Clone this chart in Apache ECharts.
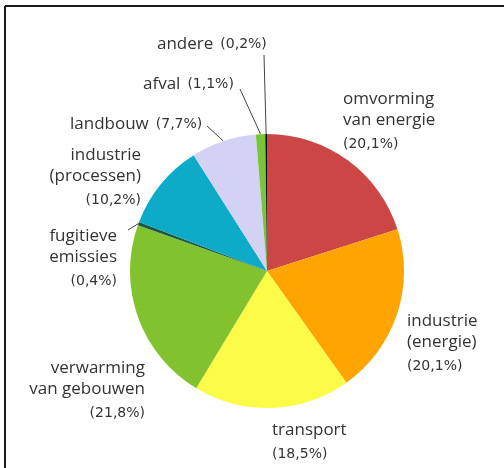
<!DOCTYPE html>
<html>
<head>
<meta charset="utf-8">
<script src="https://cdn.jsdelivr.net/npm/echarts@6/dist/echarts.min.js"></script>
<style>
  html, body { margin: 0; padding: 0; background: #fff; }
  #chart { width: 504px; height: 468px; }
</style>
</head>
<body>
<div id="chart"></div>
<script>
// Emission shares per sector (%), clockwise from 12 o'clock
const categories = [
  'omvorming van energie', 'industrie (energie)', 'transport',
  'verwarming van gebouwen', 'fugitieve emissies', 'industrie (processen)',
  'landbouw', 'afval', 'andere'
];
const shares = [20.1, 20.1, 18.5, 21.8, 0.4, 10.2, 7.7, 1.1, 0.2];
// How each sector name is broken over lines in its label
const nameLines = [
  ['omvorming', 'van energie'], ['industrie', '(energie)'], ['transport'],
  ['verwarming', 'van gebouwen'], ['fugitieve', 'emissies'], ['industrie', '(processen)'],
  ['landbouw'], ['afval'], ['andere']
];
// Names whose percentage sits on the same line
const inlinePercent = ['landbouw', 'afval', 'andere'];

const sliceColors = ['#cd4646', '#ffa400', '#fbfb48', '#82c22f', '#1c5a44',
                     '#0eabc9', '#d3d1f4', '#79c53a', '#111111'];

// Label anchors (top of the text block) and leader-line ends
const labelPlacement = [
  { x: 343, y: 89,  align: 'left' },
  { x: 407, y: 311, align: 'left' },
  { x: 272, y: 420, align: 'left' },
  { x: 145, y: 358, align: 'right' },
  { x: 117, y: 226, align: 'right', lineEnd: [128, 230] },
  { x: 141, y: 145, align: 'right' },
  { x: 70,  y: 112, align: 'left',  lineEnd: [207, 126] },
  { x: 143, y: 72,  align: 'left',  lineEnd: [240, 89] },
  { x: 157, y: 32,  align: 'left',  lineEnd: [264, 55] }
];

const CX = 267, CY = 271, R = 137;

function pct(v) { return '(' + v.toFixed(1).replace('.', ',') + '%)'; }

const total = shares.reduce((a, b) => a + b, 0);
function edgePoint(i) {
  let before = 0;
  for (let k = 0; k < i; k++) before += shares[k];
  const a = (before + shares[i] / 2) / total * 2 * Math.PI;
  return [CX + R * Math.sin(a), CY - R * Math.cos(a)];
}

const data = categories.map((name, i) => ({
  name: name,
  value: shares[i],
  itemStyle: { color: sliceColors[i] },
  labelLine: { show: !!labelPlacement[i].lineEnd }
}));

const chart = echarts.init(document.getElementById('chart'), null, { renderer: 'canvas' });
chart.setOption({
  backgroundColor: '#ffffff',
  animation: false,
  graphic: [
    { type: 'line', shape: { x1: 5, y1: 6, x2: 504, y2: 6 }, style: { stroke: '#1a1a1a', lineWidth: 2 } },
    { type: 'line', shape: { x1: 5, y1: 6, x2: 5, y2: 468 }, style: { stroke: '#1a1a1a', lineWidth: 2 } }
  ],
  series: [{
    type: 'pie',
    center: [CX, CY],
    radius: R,
    startAngle: 90,
    clockwise: true,
    avoidLabelOverlap: false,
    silent: true,
    itemStyle: { borderWidth: 0 },
    label: {
      show: true,
      position: 'outside',
      fontFamily: 'Open Sans',
      color: '#333',
      formatter: function (p) {
        const lines = nameLines[p.dataIndex];
        if (inlinePercent.indexOf(lines[0]) >= 0) {
          return '{n|' + lines[0] + '}{q|' + pct(p.value) + '}';
        }
        return lines.map(t => '{n|' + t + '}').join('\n') + '\n{p|' + pct(p.value) + '}';
      },
      rich: {
        n: { fontFamily: 'Open Sans', fontSize: 17, lineHeight: 21, color: '#333' },
        p: { fontFamily: 'DejaVu Sans', fontSize: 14, lineHeight: 26, color: '#333' },
        q: { fontFamily: 'DejaVu Sans', fontSize: 14, lineHeight: 24, color: '#333', padding: [0, 0, 0, 7] }
      }
    },
    labelLine: {
      show: false,
      length: 10,
      length2: 10,
      lineStyle: { color: '#444', width: 1 }
    },
    labelLayout: function (params) {
      const L = labelPlacement[params.dataIndex];
      const out = { x: L.x, y: L.y, align: L.align, verticalAlign: 'top' };
      if (L.lineEnd) {
        const start = (params.labelLinePoints && params.labelLinePoints[0]) || edgePoint(params.dataIndex);
        out.labelLinePoints = [start, L.lineEnd, L.lineEnd];
      }
      return out;
    },
    data: data
  }]
});
</script>
</body>
</html>
